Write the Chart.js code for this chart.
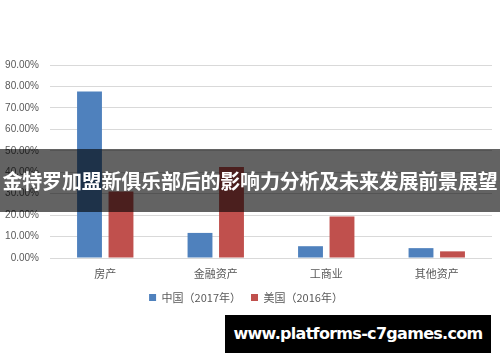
<!DOCTYPE html>
<html>
<head>
<meta charset="utf-8">
<script src="https://cdn.jsdelivr.net/npm/chart.js@4/dist/chart.umd.min.js"></script>
<style>
  html, body { margin: 0; padding: 0; background: #fff; }
  #wrap { position: relative; width: 500px; height: 362px; overflow: hidden; }
  #banner {
    position: absolute; left: 0; top: 149px; width: 500px; height: 63px;
    background: rgba(0,0,0,0.61); color: #fff;
    font: bold 20px "Noto Sans CJK SC", sans-serif;
    line-height: 63px; text-align: center; white-space: nowrap; letter-spacing: -0.2px;
  }
  #mark {
    position: absolute; left: 225px; top: 315px; width: 266px; height: 38px;
    background: #000; color: #fff;
    font: bold 16px "DejaVu Sans", sans-serif; letter-spacing: -0.7px;
    line-height: 38px; text-align: center; white-space: nowrap;
  }
</style>
</head>
<body>
<div id="wrap">
  <canvas id="chart" width="500" height="362"></canvas>
  <div id="banner">金特罗加盟新俱乐部后的影响力分析及未来发展前景展望</div>
  <div id="mark">www.platforms-c7games.com</div>
</div>
<script>
const categories = ['房产', '金融资产', '工商业', '其他资产'];
const seriesNames = ['中国（2017年）', '美国（2016年）'];
const china2017 = [0.776, 0.117, 0.055, 0.046];
const usa2016 = [0.31, 0.424, 0.194, 0.031];
const yTicks = [0, 0.1, 0.2, 0.3, 0.4, 0.5, 0.6, 0.7, 0.8, 0.9];

const TEXT = '#595959';
const GRID = '#D9D9D9';
const FONT = '"Noto Sans CJK SC", "Liberation Sans", sans-serif';

new Chart(document.getElementById('chart'), {
  type: 'bar',
  data: {
    labels: categories,
    datasets: [
      { label: seriesNames[0], data: china2017, backgroundColor: '#4F81BD', categoryPercentage: 0.57, barPercentage: 0.79 },
      { label: seriesNames[1], data: usa2016, backgroundColor: '#C0504D', categoryPercentage: 0.57, barPercentage: 0.79 }
    ]
  },
  options: {
    responsive: false,
    animation: false,
    layout: { padding: { left: 0, right: 8, top: 65, bottom: 49 } },
    scales: {
      x: {
        grid: { display: false, drawTicks: false },
        border: { display: false },
        ticks: { color: TEXT, font: { size: 11, family: FONT }, padding: 9 },
        afterFit: s => { s.height = 24; }
      },
      y: {
        min: 0, max: 0.9,
        afterBuildTicks: s => { s.ticks = yTicks.map(v => ({ value: v })); },
        grid: { color: GRID, lineWidth: 1, drawTicks: false },
        border: { display: false },
        ticks: {
          color: TEXT, font: { size: 10, family: '"Liberation Sans", sans-serif' }, padding: 11,
          callback: v => (v * 100).toFixed(2) + '%'
        },
        afterFit: s => { s.width = 50; }
      }
    },
    plugins: {
      legend: {
        position: 'bottom',
        labels: { color: TEXT, font: { size: 11, family: FONT }, boxWidth: 7, boxHeight: 7, padding: 10 }
      },
      tooltip: { enabled: false }
    }
  }
});
</script>
</body>
</html>
